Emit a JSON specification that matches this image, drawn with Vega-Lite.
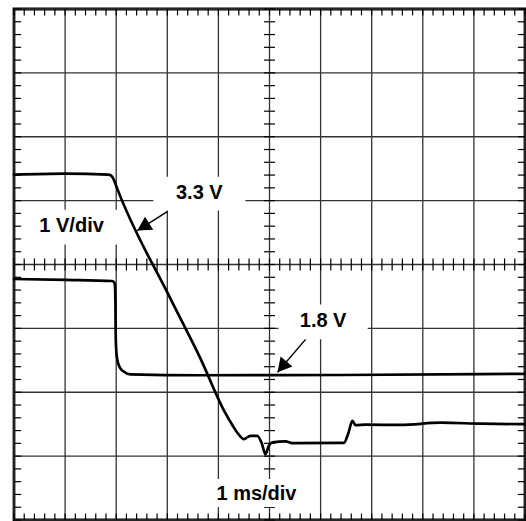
{
  "$schema": "https://vega.github.io/schema/vega-lite/v6.json",
  "width": 511,
  "height": 511,
  "padding": {"left": 14, "top": 9, "right": 1, "bottom": 1},
  "autosize": {"type": "none"},
  "background": "white",
  "config": {
    "view": {"stroke": "black", "strokeWidth": 2.8},
    "axis": {"disable": true},
    "font": "Liberation Sans"
  },
  "datasets": {
    "gx": [{"v":0},{"v":1},{"v":2},{"v":3},{"v":4},{"v":5},{"v":6},{"v":7},{"v":8},{"v":9},{"v":10}],
    "gy": [{"v":0},{"v":1},{"v":2},{"v":3},{"v":4},{"v":5},{"v":6},{"v":7},{"v":8}],
    "xt": [{"v":0},{"v":0.2},{"v":0.4},{"v":0.6},{"v":0.8},{"v":1},{"v":1.2},{"v":1.4},{"v":1.6},{"v":1.8},{"v":2},{"v":2.2},{"v":2.4},{"v":2.6},{"v":2.8},{"v":3},{"v":3.2},{"v":3.4},{"v":3.6},{"v":3.8},{"v":4},{"v":4.2},{"v":4.4},{"v":4.6},{"v":4.8},{"v":5},{"v":5.2},{"v":5.4},{"v":5.6},{"v":5.8},{"v":6},{"v":6.2},{"v":6.4},{"v":6.6},{"v":6.8},{"v":7},{"v":7.2},{"v":7.4},{"v":7.6},{"v":7.8},{"v":8},{"v":8.2},{"v":8.4},{"v":8.6},{"v":8.8},{"v":9},{"v":9.2},{"v":9.4},{"v":9.6},{"v":9.8},{"v":10}],
    "yt": [{"v":0},{"v":0.2},{"v":0.4},{"v":0.6},{"v":0.8},{"v":1},{"v":1.2},{"v":1.4},{"v":1.6},{"v":1.8},{"v":2},{"v":2.2},{"v":2.4},{"v":2.6},{"v":2.8},{"v":3},{"v":3.2},{"v":3.4},{"v":3.6},{"v":3.8},{"v":4},{"v":4.2},{"v":4.4},{"v":4.6},{"v":4.8},{"v":5},{"v":5.2},{"v":5.4},{"v":5.6},{"v":5.8},{"v":6},{"v":6.2},{"v":6.4},{"v":6.6},{"v":6.8},{"v":7},{"v":7.2},{"v":7.4},{"v":7.6},{"v":7.8},{"v":8}],
    "boxes": [
      {"label":"3.3 V","x1":2.725,"x2":4.529,"y1":4.844,"y2":5.375},
      {"label":"1 V/div","x1":0.216,"x2":2.039,"y1":4.3125,"y2":4.859},
      {"label":"1.8 V","x1":5.176,"x2":6.922,"y1":2.828,"y2":3.375},
      {"label":"1 ms/div","x1":3.745,"x2":5.804,"y1":0.203,"y2":0.64}
    ],
    "labels": [
      {"label":"3.3 V","x":3.627,"y":5.113},
      {"label":"1 V/div","x":1.127,"y":4.605},
      {"label":"1.8 V","x":6.049,"y":3.114},
      {"label":"1 ms/div","x":4.745,"y":0.406}
    ],
    "arrows": [
      {"id":"a33","x1":3.0,"y1":4.828,"x2":2.412,"y2":4.531},
      {"id":"a18","x1":5.706,"y1":2.828,"x2":5.157,"y2":2.3125}
    ],
    "traces": [
      {"s":"3.3 V","t":0,"v":5.406},
      {"s":"3.3 V","t":1.0,"v":5.422},
      {"s":"3.3 V","t":1.843,"v":5.406},
      {"s":"3.3 V","t":1.902,"v":5.391},
      {"s":"3.3 V","t":1.961,"v":5.313},
      {"s":"3.3 V","t":2.020,"v":5.188},
      {"s":"3.3 V","t":3.059,"v":3.469},
      {"s":"3.3 V","t":3.647,"v":2.531},
      {"s":"3.3 V","t":4.137,"v":1.672},
      {"s":"3.3 V","t":4.275,"v":1.484},
      {"s":"3.3 V","t":4.392,"v":1.344},
      {"s":"3.3 V","t":4.496,"v":1.266},
      {"s":"3.3 V","t":4.627,"v":1.317},
      {"s":"3.3 V","t":4.759,"v":1.317},
      {"s":"3.3 V","t":4.843,"v":1.214},
      {"s":"3.3 V","t":4.922,"v":1.031},
      {"s":"3.3 V","t":4.986,"v":1.161},
      {"s":"3.3 V","t":5.059,"v":1.214},
      {"s":"3.3 V","t":5.314,"v":1.23},
      {"s":"3.3 V","t":5.445,"v":1.203},
      {"s":"3.3 V","t":6.457,"v":1.208},
      {"s":"3.3 V","t":6.543,"v":1.359},
      {"s":"3.3 V","t":6.622,"v":1.552},
      {"s":"3.3 V","t":6.686,"v":1.484},
      {"s":"3.3 V","t":6.882,"v":1.492},
      {"s":"3.3 V","t":7.569,"v":1.489},
      {"s":"3.3 V","t":8.353,"v":1.523},
      {"s":"3.3 V","t":9.137,"v":1.508},
      {"s":"3.3 V","t":10,"v":1.5},
      {"s":"1.8 V","t":0,"v":3.773},
      {"s":"1.8 V","t":1.0,"v":3.76},
      {"s":"1.8 V","t":1.922,"v":3.742},
      {"s":"1.8 V","t":1.971,"v":3.703},
      {"s":"1.8 V","t":1.985,"v":3.4},
      {"s":"1.8 V","t":1.99,"v":2.9},
      {"s":"1.8 V","t":2.0,"v":2.672},
      {"s":"1.8 V","t":2.02,"v":2.516},
      {"s":"1.8 V","t":2.059,"v":2.406},
      {"s":"1.8 V","t":2.137,"v":2.328},
      {"s":"1.8 V","t":2.275,"v":2.281},
      {"s":"1.8 V","t":3.647,"v":2.266},
      {"s":"1.8 V","t":6.392,"v":2.27},
      {"s":"1.8 V","t":10,"v":2.289}
    ]
  },
  "layer": [
    {
      "data": {"name": "gx"},
      "mark": {"type": "rule", "color": "#333", "strokeWidth": 1.3},
      "encoding": {
        "x": {"field": "v", "type": "quantitative", "scale": {"domain": [0, 10], "nice": false, "zero": false}, "axis": null},
        "y": {"datum": 0, "type": "quantitative", "scale": {"domain": [0, 8], "nice": false, "zero": false}, "axis": null},
        "y2": {"datum": 8}
      }
    },
    {
      "data": {"name": "gy"},
      "mark": {"type": "rule", "color": "#333", "strokeWidth": 1.3},
      "encoding": {
        "y": {"field": "v", "type": "quantitative", "axis": null},
        "x": {"datum": 0, "type": "quantitative", "axis": null},
        "x2": {"datum": 10}
      }
    },
    {
      "data": {"name": "xt"},
      "mark": {"type": "rule", "color": "black", "strokeWidth": 1.2},
      "encoding": {
        "x": {"field": "v", "type": "quantitative", "axis": null},
        "y": {"datum": 8, "type": "quantitative", "axis": null},
        "y2": {"datum": 7.9}
      }
    },
    {
      "data": {"name": "xt"},
      "mark": {"type": "rule", "color": "black", "strokeWidth": 1.2},
      "encoding": {
        "x": {"field": "v", "type": "quantitative", "axis": null},
        "y": {"datum": 0, "type": "quantitative", "axis": null},
        "y2": {"datum": 0.1}
      }
    },
    {
      "data": {"name": "xt"},
      "mark": {"type": "rule", "color": "black", "strokeWidth": 1.2},
      "encoding": {
        "x": {"field": "v", "type": "quantitative", "axis": null},
        "y": {"datum": 3.906, "type": "quantitative", "axis": null},
        "y2": {"datum": 4.094}
      }
    },
    {
      "data": {"name": "yt"},
      "mark": {"type": "rule", "color": "black", "strokeWidth": 1.2},
      "encoding": {
        "y": {"field": "v", "type": "quantitative", "axis": null},
        "x": {"datum": 0, "type": "quantitative", "axis": null},
        "x2": {"datum": 0.14}
      }
    },
    {
      "data": {"name": "yt"},
      "mark": {"type": "rule", "color": "black", "strokeWidth": 1.2},
      "encoding": {
        "y": {"field": "v", "type": "quantitative", "axis": null},
        "x": {"datum": 10, "type": "quantitative", "axis": null},
        "x2": {"datum": 9.86}
      }
    },
    {
      "data": {"name": "yt"},
      "mark": {"type": "rule", "color": "black", "strokeWidth": 1.2},
      "encoding": {
        "y": {"field": "v", "type": "quantitative", "axis": null},
        "x": {"datum": 4.892, "type": "quantitative", "axis": null},
        "x2": {"datum": 5.108}
      }
    },
    {
      "data": {"name": "boxes"},
      "mark": {"type": "rect", "fill": "white", "stroke": null},
      "encoding": {
        "x": {"field": "x1", "type": "quantitative", "axis": null},
        "x2": {"field": "x2"},
        "y": {"field": "y1", "type": "quantitative", "axis": null},
        "y2": {"field": "y2"}
      }
    },
    {
      "data": {"name": "traces"},
      "mark": {"type": "line", "color": "black", "strokeWidth": 2.7, "interpolate": "monotone", "strokeJoin": "round", "strokeCap": "round"},
      "encoding": {
        "x": {"field": "t", "type": "quantitative", "axis": null},
        "y": {"field": "v", "type": "quantitative", "axis": null},
        "detail": {"field": "s"}
      }
    },
    {
      "data": {"name": "labels"},
      "mark": {"type": "text", "font": "Liberation Sans", "fontWeight": "bold", "fontSize": 20, "align": "center", "baseline": "middle", "color": "black"},
      "encoding": {
        "x": {"field": "x", "type": "quantitative", "axis": null},
        "y": {"field": "y", "type": "quantitative", "axis": null},
        "text": {"field": "label"}
      }
    },
    {
      "data": {"name": "arrows"},
      "mark": {"type": "rule", "color": "black", "strokeWidth": 1.5},
      "encoding": {
        "x": {"field": "x1", "type": "quantitative", "axis": null},
        "y": {"field": "y1", "type": "quantitative", "axis": null},
        "x2": {"field": "x2"},
        "y2": {"field": "y2"}
      }
    },
    {
      "data": {"name": "arrows"},
      "transform": [{"filter": "datum.id === 'a33'"}],
      "mark": {"type": "point", "shape": "M0,0L-0.55,1L0.55,1Z", "size": 784, "filled": true, "color": "black", "opacity": 1, "angle": 238},
      "encoding": {
        "x": {"field": "x2", "type": "quantitative", "axis": null},
        "y": {"field": "y2", "type": "quantitative", "axis": null}
      }
    },
    {
      "data": {"name": "arrows"},
      "transform": [{"filter": "datum.id === 'a18'"}],
      "mark": {"type": "point", "shape": "M0,0L-0.55,1L0.55,1Z", "size": 784, "filled": true, "color": "black", "opacity": 1, "angle": 220},
      "encoding": {
        "x": {"field": "x2", "type": "quantitative", "axis": null},
        "y": {"field": "y2", "type": "quantitative", "axis": null}
      }
    }
  ]
}
